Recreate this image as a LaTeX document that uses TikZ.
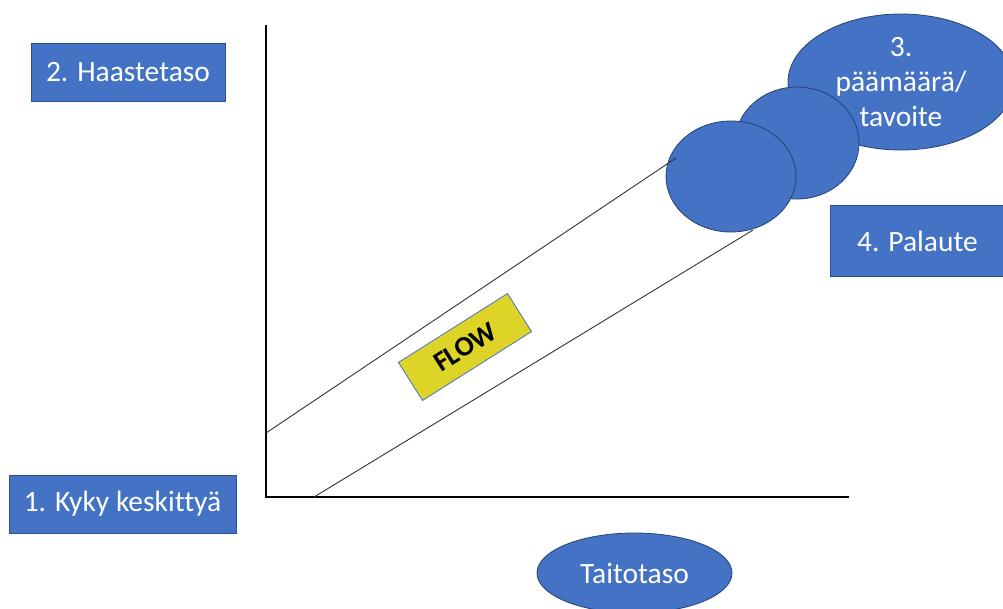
\documentclass[tikz,border=0pt]{standalone}
\usepackage{fontspec}
\setmainfont[Ligatures=NoCommon]{Carlito}
\usetikzlibrary{shapes.geometric}
\definecolor{officeblue}{RGB}{68,114,196}
\definecolor{edgeblue}{RGB}{47,82,143}
\definecolor{flowyellow}{RGB}{222,212,40}
\tikzset{
  bluebox/.style={rectangle, fill=officeblue, draw=edgeblue, line width=0.6pt,
    text=white, font=\fontsize{29.5}{35}\selectfont, inner sep=0pt},
  blueoval/.style={ellipse, fill=officeblue, draw=edgeblue!80!black, line width=0.8pt,
    text=white, font=\fontsize{29.5}{35}\selectfont, inner sep=0pt, align=center},
  axisline/.style={line width=2pt, black},
  bandline/.style={line width=0.9pt, black!80},
  flowbox/.style={rectangle, fill=flowyellow, draw=officeblue, line width=0.8pt,
    font=\bfseries\fontsize{28}{32}\selectfont, inner sep=0pt}
}
\begin{document}
\begin{tikzpicture}[x=1pt,y=-1pt]
\useasboundingbox (0,0) rectangle (1003,608);
\fill[white] (0,0) rectangle (1003,608);

% axes
\coordinate (ytop) at (266,25);
\coordinate (origin) at (266,497);
\coordinate (xend) at (849,497);
\draw[axisline] (ytop) -- (origin) -- (xend);

% labels
\node[bluebox, minimum width=194pt, minimum height=58pt] (challenge) at (128,72) {2. Haastetaso};
\node[bluebox, minimum width=227pt, minimum height=58pt] (focus) at (122.5,504) {1. Kyky keskittyä};
\node[bluebox, minimum width=175pt, minimum height=71pt] (feedback) at (917.5,241) {4. Palaute};
\node[blueoval, minimum width=195pt, minimum height=80pt] (skill) at (634.5,573) {Taitotaso};

% goal ellipses, back to front
\node[blueoval, minimum width=226pt, minimum height=136pt] (goal) at (901,82)
  {3.\\päämäärä/\\tavoite};
\node[blueoval, minimum width=124pt, minimum height=112pt] (midoval) at (797,143) {};
\node[blueoval, minimum width=130pt, minimum height=111pt] (frontoval) at (731,176.5) {};

% flow channel
\coordinate (upA) at (266,433);
\coordinate (upB) at (676,158);
\coordinate (lowA) at (314,497);
\coordinate (lowB) at (753,230);
\draw[bandline] (upA) -- (upB);
\draw[bandline] (lowA) -- (lowB);

\node[flowbox, rotate=32.3, minimum width=129pt, minimum height=45pt] (flow) at (465,347) {FLOW};
\end{tikzpicture}
\end{document}
